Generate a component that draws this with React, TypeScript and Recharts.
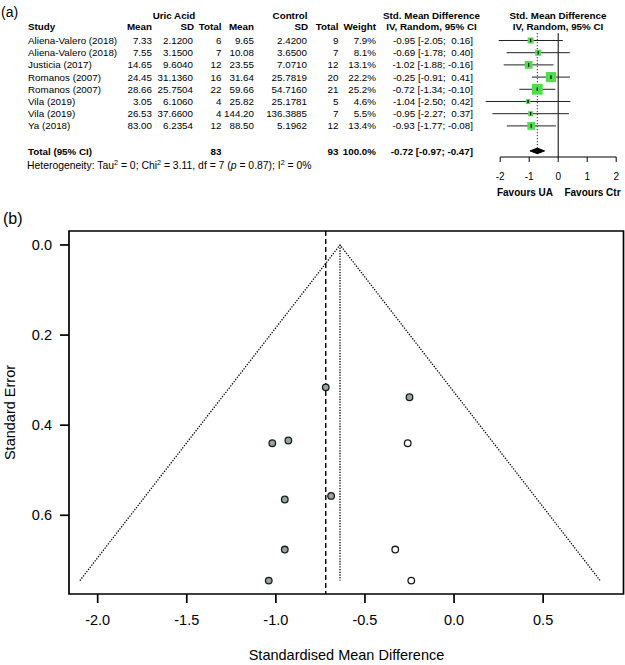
import React from 'react';
import { ComposedChart, XAxis, YAxis, Scatter, Line, Area, Customized, ReferenceArea } from 'recharts';

const FONT = '"Liberation Sans", Arial, Helvetica, sans-serif';
const GREEN = '#4fdc4f';
const PT_FILL = '#93a5a3';
const FS_A = 9.8;

// ---------- Panel (a): forest plot data ----------
const studies = [
  'Aliena-Valero (2018)', 'Aliena-Valero (2018)', 'Justicia (2017)', 'Romanos (2007)',
  'Romanos (2007)', 'Vila (2019)', 'Vila (2019)', 'Ya (2018)',
];
const uaMean = [7.33, 7.55, 14.65, 24.45, 28.66, 3.05, 26.53, 83.0];
const uaSD = [2.12, 3.15, 9.604, 31.136, 25.7504, 6.106, 37.66, 6.2354];
const uaN = [6, 7, 12, 16, 22, 4, 4, 12];
const ctMean = [9.65, 10.08, 23.55, 31.64, 59.66, 25.82, 144.2, 88.5];
const ctSD = [2.42, 3.65, 7.071, 25.7819, 54.716, 25.1781, 136.3885, 5.1962];
const ctN = [9, 7, 12, 20, 21, 5, 7, 12];
const weights = [7.9, 8.1, 13.1, 22.2, 25.2, 4.6, 5.5, 13.4];
const smd = [-0.95, -0.69, -1.02, -0.25, -0.72, -1.04, -0.95, -0.93];
const ciLow = [-2.05, -1.78, -1.88, -0.91, -1.34, -2.5, -2.27, -1.77];
const ciHigh = [0.16, 0.4, -0.16, 0.41, -0.1, 0.42, 0.37, -0.08];
const pooled = { est: -0.72, lo: -0.97, hi: -0.47, nUA: 83, nCt: 93 };
const forestTicks = [-2, -1, 0, 1, 2];

// ---------- Panel (b): funnel plot data ----------
const studySE = [0.565, 0.557, 0.44, 0.338, 0.316, 0.745, 0.676, 0.434];
const imputedSMD = [-0.26, -0.33, -0.24];
const imputedSE = [0.44, 0.676, 0.745];
const funnelCenter = -0.64;
const funnelMaxSE = 0.745;
const funnelLower = -2.1;
const funnelUpper = 0.82;
const funnelXTicks = [-2, -1.5, -1, -0.5, 0, 0.5];
const funnelYTicks = [0, 0.2, 0.4, 0.6];

// ---------- derived tables ----------
const f2 = (v: number) => v.toFixed(2);
const fmtCI = (e: number, l: number, h: number) =>
  `${f2(e)} [${f2(l)}; ${h < 0 ? '' : ' '}${f2(h)}]`;

const forestRows = studies.map((s, i) => ({
  x: smd[i],
  y: i,
  study: s,
  uaMean: uaMean[i].toFixed(2),
  uaSD: uaSD[i].toFixed(4),
  uaN: String(uaN[i]),
  ctMean: ctMean[i].toFixed(2),
  ctSD: ctSD[i].toFixed(4),
  ctN: String(ctN[i]),
  weight: weights[i].toFixed(1) + '%',
  ci: fmtCI(smd[i], ciLow[i], ciHigh[i]),
  w: weights[i],
}));
const ciLines = studies.map((_, i) => [
  { x: ciLow[i], y: i },
  { x: ciHigh[i], y: i },
]);
const TOTAL_ROW = 9.05;
const DIAMOND_H = 0.23;
const diamond = [
  { x: pooled.lo, band: [TOTAL_ROW, TOTAL_ROW] },
  { x: pooled.est, band: [TOTAL_ROW - DIAMOND_H, TOTAL_ROW + DIAMOND_H] },
  { x: pooled.hi, band: [TOTAL_ROW, TOTAL_ROW] },
];
const Y_MIN_A = -1;
const Y_MAX_A = 9.55;
const zeroLine = [{ x: 0, y: -0.6 }, { x: 0, y: Y_MAX_A }];
const pooledLine = [{ x: pooled.est, y: -0.6 }, { x: pooled.est, y: 8.8 }];
const axisLineA = [{ x: forestTicks[0], y: Y_MAX_A }, { x: forestTicks[forestTicks.length - 1], y: Y_MAX_A }];

const funnelStudies = smd.map((v, i) => ({ x: v, y: studySE[i] }));
const funnelImputed = imputedSMD.map((v, i) => ({ x: v, y: imputedSE[i] }));
const triangle = [
  { x: funnelLower, y: funnelMaxSE },
  { x: funnelCenter, y: 0 },
  { x: funnelUpper, y: funnelMaxSE },
];
const X_DOM_B: [number, number] = [-2.161, 0.951];
const Y_DOM_B: [number, number] = [-0.031, 0.7747];
const centerLine = [{ x: funnelCenter, y: 0 }, { x: funnelCenter, y: funnelMaxSE }];
const pooledLineB = [{ x: pooled.est, y: Y_DOM_B[0] }, { x: pooled.est, y: Y_DOM_B[1] }];

// ---------- column layout (page px) ----------
const COL = {
  study: 28, uaMean: 152, uaSD: 193, uaN: 221.5, ctMean: 254, ctSD: 307, ctN: 338.5,
  weight: 376, ci: 473,
};

const T = (p: any) => (
  <text
    fontFamily={FONT}
    fontSize={FS_A}
    fill="#000"
    dy="0.35em"
    style={{ whiteSpace: 'pre' }}
    {...p}
  />
);

const RowShape = (props: any) => {
  const { cx, cy, payload } = props;
  if (cx == null || cy == null) return <g />;
  const side = 2.15 * Math.sqrt(payload.w);
  return (
    <g>
      <rect x={cx - side / 2} y={cy - side / 2} width={side} height={side} fill={GREEN} />
      <line x1={cx} x2={cx} y1={cy - 1.8} y2={cy + 1.8} stroke="#000" strokeWidth={1.2} />
      <T x={COL.study} y={cy}>{payload.study}</T>
      <T x={COL.uaMean} y={cy} textAnchor="end">{payload.uaMean}</T>
      <T x={COL.uaSD} y={cy} textAnchor="end">{payload.uaSD}</T>
      <T x={COL.uaN} y={cy} textAnchor="end">{payload.uaN}</T>
      <T x={COL.ctMean} y={cy} textAnchor="end">{payload.ctMean}</T>
      <T x={COL.ctSD} y={cy} textAnchor="end">{payload.ctSD}</T>
      <T x={COL.ctN} y={cy} textAnchor="end">{payload.ctN}</T>
      <T x={COL.weight} y={cy} textAnchor="end">{payload.weight}</T>
      <T x={COL.ci} y={cy} textAnchor="end">{payload.ci}</T>
    </g>
  );
};

const HeaderA = () => (
  <g>
    <text x={1} y={12} dy="0.35em" fontFamily={FONT} fontSize={14} fill="#000">(a)</text>
    <T x={174} y={16} textAnchor="middle" fontWeight="bold">Uric Acid</T>
    <T x={290} y={16} textAnchor="middle" fontWeight="bold">Control</T>
    <T x={431.5} y={16} textAnchor="middle" fontWeight="bold">Std. Mean Difference</T>
    <T x={431.5} y={27} textAnchor="middle" fontWeight="bold">IV, Random, 95% CI</T>
    <T x={558} y={16} textAnchor="middle" fontWeight="bold">Std. Mean Difference</T>
    <T x={558} y={27} textAnchor="middle" fontWeight="bold">IV, Random, 95% CI</T>
    <T x={COL.study} y={27} fontWeight="bold">Study</T>
    <T x={COL.uaMean} y={27} textAnchor="end" fontWeight="bold">Mean</T>
    <T x={COL.uaSD + 1} y={27} textAnchor="end" fontWeight="bold">SD</T>
    <T x={COL.uaN} y={27} textAnchor="end" fontWeight="bold">Total</T>
    <T x={COL.ctMean} y={27} textAnchor="end" fontWeight="bold">Mean</T>
    <T x={COL.ctSD + 1} y={27} textAnchor="end" fontWeight="bold">SD</T>
    <T x={COL.ctN} y={27} textAnchor="end" fontWeight="bold">Total</T>
    <T x={COL.weight} y={27} textAnchor="end" fontWeight="bold">Weight</T>
    <T x={COL.study} y={151.5} fontWeight="bold">Total (95% CI)</T>
    <T x={COL.uaN} y={151.5} textAnchor="end" fontWeight="bold">{String(pooled.nUA)}</T>
    <T x={COL.ctN} y={151.5} textAnchor="end" fontWeight="bold">{String(pooled.nCt)}</T>
    <T x={COL.weight} y={151.5} textAnchor="end" fontWeight="bold">100.0%</T>
    <T x={COL.ci} y={151.5} textAnchor="end" fontWeight="bold">{fmtCI(pooled.est, pooled.lo, pooled.hi)}</T>
    <T x={27} y={165} fontSize={10.4}>
      Heterogeneity: Tau<tspan dy={-4} fontSize={7.2}>2</tspan>
      <tspan dy={4}> = 0; Chi</tspan><tspan dy={-4} fontSize={7.2}>2</tspan>
      <tspan dy={4}> = 3.11, df = 7 (</tspan><tspan fontStyle="italic">p</tspan>
      <tspan> = 0.87); I</tspan><tspan dy={-4} fontSize={7.2}>2</tspan>
      <tspan dy={4}> = 0%</tspan>
    </T>
    <T x={525} y={192.5} textAnchor="middle" fontWeight="bold" fontSize={10}>Favours UA</T>
    <T x={592.5} y={192.5} textAnchor="middle" fontWeight="bold" fontSize={10}>Favours Ctr</T>
  </g>
);

const LabelsB = () => (
  <g fontFamily={FONT} fill="#000">
    <text x={3} y={18} dy="0.35em" fontSize={16}>(b)</text>
    <text
      x={10}
      y={212.5}
      dy="0.35em"
      fontSize={14.5}
      textAnchor="middle"
      transform="rotate(-90 10 212.5)"
    >
      Standard Error
    </text>
    <text x={346.5} y={455} dy="0.35em" fontSize={14.5} textAnchor="middle">
      Standardised Mean Difference
    </text>
  </g>
);

const PointShape = (fill: string) => (props: any) => {
  const { cx, cy } = props;
  if (cx == null || cy == null) return <g />;
  return <circle cx={cx} cy={cy} r={3.3} fill={fill} stroke="#1a1a1a" strokeWidth={1.3} />;
};

export default function App() {
  return (
    <div style={{ position: 'absolute', left: 0, top: 0, width: 625, height: 665, background: '#fff', overflow: 'hidden' }}>
      <div style={{ position: 'absolute', left: 0, top: 0 }}>
        <ComposedChart width={625} height={200} margin={{ top: 28.3, right: 8.8, bottom: 13, left: 471.2 }}>
          <XAxis
            type="number"
            dataKey="x"
            domain={[-3, 2]}
            ticks={forestTicks}
            interval={0}
            axisLine={false}
            tickSize={5}
            tickMargin={11}
            tickLine={{ stroke: '#000', strokeWidth: 1 }}
            tick={{ fill: '#000', fontSize: 10, fontFamily: FONT }}
            height={30}
          />
          <YAxis type="number" dataKey="y" domain={[Y_MIN_A, Y_MAX_A]} reversed hide />
          <Customized component={HeaderA} />
          <Line data={axisLineA} dataKey="y" stroke="#000" strokeWidth={1} dot={false} isAnimationActive={false} />
          <Line data={zeroLine} dataKey="y" stroke="#000" strokeWidth={1} dot={false} isAnimationActive={false} />
          <Line data={pooledLine} dataKey="y" stroke="#000" strokeWidth={1} strokeDasharray="1 2" dot={false} isAnimationActive={false} />
          {ciLines.map((d, i) => (
            <Line key={'ci' + i} data={d} dataKey="y" stroke="#222" strokeWidth={1} dot={false} isAnimationActive={false} />
          ))}
          <Area data={diamond} dataKey="band" fill="#000" fillOpacity={1} stroke="#000" strokeWidth={1} isAnimationActive={false} />
          <Scatter data={forestRows} shape={RowShape} isAnimationActive={false} />
        </ComposedChart>
      </div>
      <div style={{ position: 'absolute', left: 0, top: 200 }}>
        <ComposedChart width={625} height={465} margin={{ top: 31, right: 1.5, bottom: 41, left: 9 }}>
          <XAxis
            type="number"
            dataKey="x"
            domain={X_DOM_B}
            allowDataOverflow
            ticks={funnelXTicks}
            interval={0}
            tickFormatter={(v: number) => v.toFixed(1)}
            axisLine={false}
            tickSize={9}
            tickMargin={12}
            tickLine={{ stroke: '#000', strokeWidth: 1.7 }}
            tick={{ fill: '#000', fontSize: 14.5, fontFamily: FONT }}
            height={30}
          />
          <YAxis
            type="number"
            dataKey="y"
            domain={Y_DOM_B}
            reversed
            allowDataOverflow
            ticks={funnelYTicks}
            interval={0}
            tickFormatter={(v: number) => v.toFixed(1)}
            axisLine={false}
            tickSize={9}
            tickMargin={8}
            tickLine={{ stroke: '#000', strokeWidth: 1.7 }}
            tick={{ fill: '#000', fontSize: 14.5, fontFamily: FONT }}
            width={60}
          />
          <ReferenceArea
            x1={X_DOM_B[0]}
            x2={X_DOM_B[1]}
            y1={Y_DOM_B[0]}
            y2={Y_DOM_B[1]}
            fill="none"
            fillOpacity={0}
            stroke="#000"
            strokeWidth={1.7}
            ifOverflow="visible"
          />
          <Customized component={LabelsB} />
          <Line data={triangle} dataKey="y" stroke="#000" strokeWidth={1.3} strokeDasharray="1.3 1.4" dot={false} isAnimationActive={false} />
          <Line data={centerLine} dataKey="y" stroke="#000" strokeWidth={1.3} strokeDasharray="1.3 1.4" dot={false} isAnimationActive={false} />
          <Line data={pooledLineB} dataKey="y" stroke="#000" strokeWidth={1.4} strokeDasharray="5 3" dot={false} isAnimationActive={false} />
          <Scatter data={funnelStudies} shape={PointShape(PT_FILL)} isAnimationActive={false} />
          <Scatter data={funnelImputed} shape={PointShape('#fff')} isAnimationActive={false} />
        </ComposedChart>
      </div>
    </div>
  );
}
